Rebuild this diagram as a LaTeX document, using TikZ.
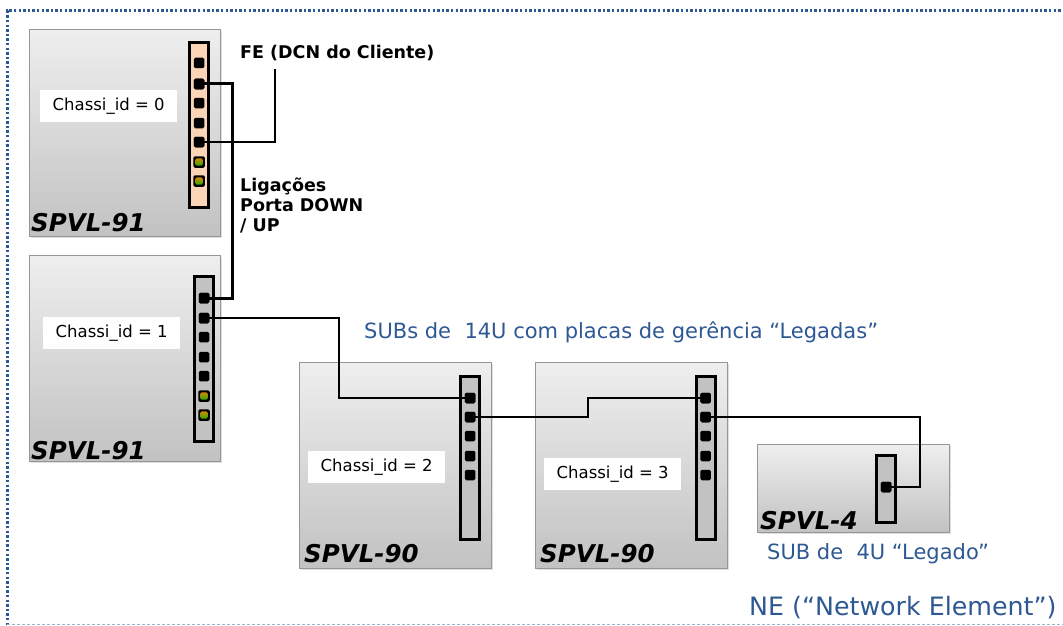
\documentclass[tikz,border=0pt]{standalone}
\usepackage{fontspec}
\setmainfont{DejaVu Sans}
\usepackage{tikz}
\usetikzlibrary{shadows}
\definecolor{nblue}{RGB}{46, 88, 148}
\definecolor{peach}{RGB}{251, 213, 181}
\definecolor{cardgray}{RGB}{194, 194, 194}
\definecolor{frame}{RGB}{150, 150, 150}

\begin{document}
\begin{tikzpicture}[x=1pt, y=-1pt,
  chassis/.style={draw=frame, line width=0.8pt, top color=gray!13, bottom color=gray!48,
    anchor=north west, inner sep=0,
    drop shadow={shadow xshift=1.2pt, shadow yshift=-1.2pt, opacity=0.25}},
  card/.style={draw=black, line width=3pt, fill=cardgray, inner sep=0, minimum width=19pt},
  port/.style={fill=black, rounded corners=1.5pt, minimum size=10.5pt, inner sep=0},
  cport/.style={port, minimum size=11.5pt,
    path picture={\shade[top color=orange, middle color=yellow, bottom color=green!70!black]
      ([shift={(2pt,2.2pt)}]path picture bounding box.south west) rectangle
      ([shift={(-2pt,-2.2pt)}]path picture bounding box.north east);}},
  idbox/.style={fill=white, inner sep=0, minimum width=137pt, minimum height=32pt,
    anchor=north west, font=\fontsize{16.5}{20}\selectfont},
  model/.style={anchor=base west, inner sep=0, font=\fontsize{24.5}{28}\selectfont\bfseries\itshape},
  wire/.style={line width=2.2pt},
  note/.style={anchor=base west, inner sep=0, text=nblue, font=\fontsize{21}{25}\selectfont},
  tag/.style={anchor=base west, inner sep=0, align=left, font=\fontsize{17.5}{20}\selectfont\bfseries}]

  \useasboundingbox (0, 0) rectangle (1063, 626);

  % network element frame
  \draw[nblue, line width=3pt, dash pattern=on 2.4pt off 2.2pt] (7, 625) -- (7, 11) -- (1063, 11);
  \draw[nblue!45, line width=0.9pt, dash pattern=on 3pt off 2pt] (7, 624) -- (1063, 624);

  % chassis
  \node[chassis, minimum width=191pt, minimum height=207pt] (c0) at (29, 29) {};
  \node[chassis, minimum width=191pt, minimum height=206pt] (c1) at (29, 255) {};
  \node[chassis, minimum width=192pt, minimum height=206pt] (c2) at (299, 362) {};
  \node[chassis, minimum width=192pt, minimum height=206pt] (c3) at (535, 362) {};
  \node[chassis, minimum width=192pt, minimum height=88pt] (c4) at (757, 444) {};

  \node[idbox] (id0) at (40, 90) {Chassi\_id = 0};
  \node[idbox] (id1) at (43, 317) {Chassi\_id = 1};
  \node[idbox] (id2) at (308, 451) {Chassi\_id = 2};
  \node[idbox] (id3) at (544, 458) {Chassi\_id = 3};

  \node[model] (m0) at (31, 231) {SPVL-91};
  \node[model] (m1) at (31, 459) {SPVL-91};
  \node[model] (m2) at (304, 562) {SPVL-90};
  \node[model] (m3) at (540, 562) {SPVL-90};
  \node[model] (m4) at (760, 529) {SPVL-4};

  % cards
  \node[card, fill=peach, minimum height=165pt] (k0) at (199, 125) {};
  \node[card, minimum height=165pt] (k1) at (204, 359) {};
  \node[card, minimum height=163pt] (k2) at (470, 458) {};
  \node[card, minimum height=163pt] (k3) at (705.5, 458) {};
  \node[card, minimum height=67pt] (k4) at (886, 489) {};

  % ports
  \foreach \i/\y in {1/63, 2/84, 3/103, 4/123, 5/142}
    \node[port] (p0-\i) at (199, \y) {};
  \node[cport] (p0-6) at (199, 162) {};
  \node[cport] (p0-7) at (199, 181) {};
  \foreach \i/\y in {1/298, 2/318, 3/337, 4/357, 5/376}
    \node[port] (p1-\i) at (204, \y) {};
  \node[cport] (p1-6) at (204, 396) {};
  \node[cport] (p1-7) at (204, 415) {};
  \foreach \i/\y in {1/398, 2/417, 3/436, 4/456, 5/475} {
    \node[port] (p2-\i) at (470, \y) {};
    \node[port] (p3-\i) at (705.5, \y) {};
  }
  \node[port] (p4-1) at (886, 487) {};

  % links
  \coordinate (fe) at (275, 69);
  \coordinate (b0) at (232, 0);
  \coordinate (b1) at (339, 0);
  \coordinate (b2) at (588, 0);
  \coordinate (b3) at (920, 0);
  \draw[wire, line width=2.6pt] (p0-5.center) -| (fe);
  \draw[wire, line width=3pt] (p0-2.center) -| (b0 |- p1-1) -- (p1-1.center);
  \draw[wire] (p1-2.center) -| (b1 |- p2-1) -- (p2-1.center);
  \draw[wire] (p2-2.center) -| (b2 |- p3-1) -- (p3-1.center);
  \draw[wire] (p3-2.center) -| (b3 |- p4-1) -- (p4-1.center);
  \foreach \p in {p0-2, p0-5, p1-1, p1-2, p2-1, p2-2, p3-1, p3-2, p4-1}
    \node[port] at (\p) {};

  % labels
  \node[tag] (fe-label) at (240, 59) {FE (DCN do Cliente)};
  \node[tag] (link-label) at (240, 231) {Ligações\\Porta DOWN\\/ UP};
  \node[note] (sub14) at (364, 338) {SUBs de \ 14U com placas de gerência “Legadas”};
  \node[note] (sub4) at (767, 559) {SUB de \ 4U “Legado”};
  \node[note, font=\fontsize{25.3}{30}\selectfont] (ne) at (749, 615) {NE (“Network Element”)};
\end{tikzpicture}
\end{document}
